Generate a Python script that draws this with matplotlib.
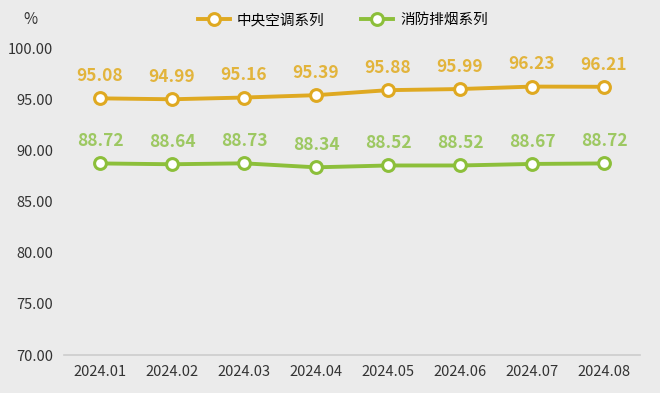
import numpy as np
import matplotlib.pyplot as plt

plt.rcParams['font.family'] = ['Noto Sans CJK SC', 'DejaVu Sans']

months = ["2024.01", "2024.02", "2024.03", "2024.04",
          "2024.05", "2024.06", "2024.07", "2024.08"]
ac_series = [95.08, 94.99, 95.16, 95.39, 95.88, 95.99, 96.23, 96.21]
fire_series = [88.72, 88.64, 88.73, 88.34, 88.52, 88.52, 88.67, 88.72]
ac_name = "中央空调系列"
fire_name = "消防排烟系列"

bg = "#ebebeb"
ac_color = "#dfa921"
fire_color = "#8cbf3a"
ac_label_color = "#e2b43c"
fire_label_color = "#9dc862"

fig = plt.figure(figsize=(6.6, 3.93), dpi=100, facecolor=bg)
ax = fig.add_axes([64 / 660, 1 - 355 / 393, 576 / 660, 307 / 393])
ax.set_facecolor(bg)

x = np.arange(len(months))
for vals, col, lcol, name in [(ac_series, ac_color, ac_label_color, ac_name),
                              (fire_series, fire_color, fire_label_color, fire_name)]:
    ax.plot(x, vals, color=col, lw=2.8, marker='o', ms=8.5, mfc='white',
            mec=col, mew=2.2, label=name, zorder=3)
    for xi, v in zip(x, vals):
        ax.annotate(f"{v:.2f}", (xi, v), xytext=(0, 16), textcoords='offset points',
                    ha='center', va='center', color=lcol, fontsize=12.5,
                    fontweight='bold')

ax.set_xlim(-0.5, len(months) - 0.5)
ax.set_ylim(70, 100)
ax.set_yticks(np.arange(70, 100.1, 5))
ax.set_yticklabels([f"{t:.2f}" for t in np.arange(70, 100.1, 5)])
ax.set_xticks(x)
ax.set_xticklabels(months)
ax.tick_params(axis='both', length=0, labelsize=10.5, colors='#333333')
ax.tick_params(axis='x', pad=7)
ax.tick_params(axis='y', pad=8)
for s in ['top', 'right', 'left']:
    ax.spines[s].set_visible(False)
ax.spines['bottom'].set_color('#cccccc')
ax.spines['bottom'].set_linewidth(1.2)

fig.text(30 / 660, 1 - 20 / 393, "%", ha='center', va='center',
         fontsize=11, color='#333333')

fig.legend(loc='center', bbox_to_anchor=(343 / 660, 1 - 20 / 393), ncol=2,
           frameon=False, fontsize=10.5, handlelength=2.2, columnspacing=2.5,
           handletextpad=0.5)

fig.savefig("out.png", dpi=100, facecolor=bg)
